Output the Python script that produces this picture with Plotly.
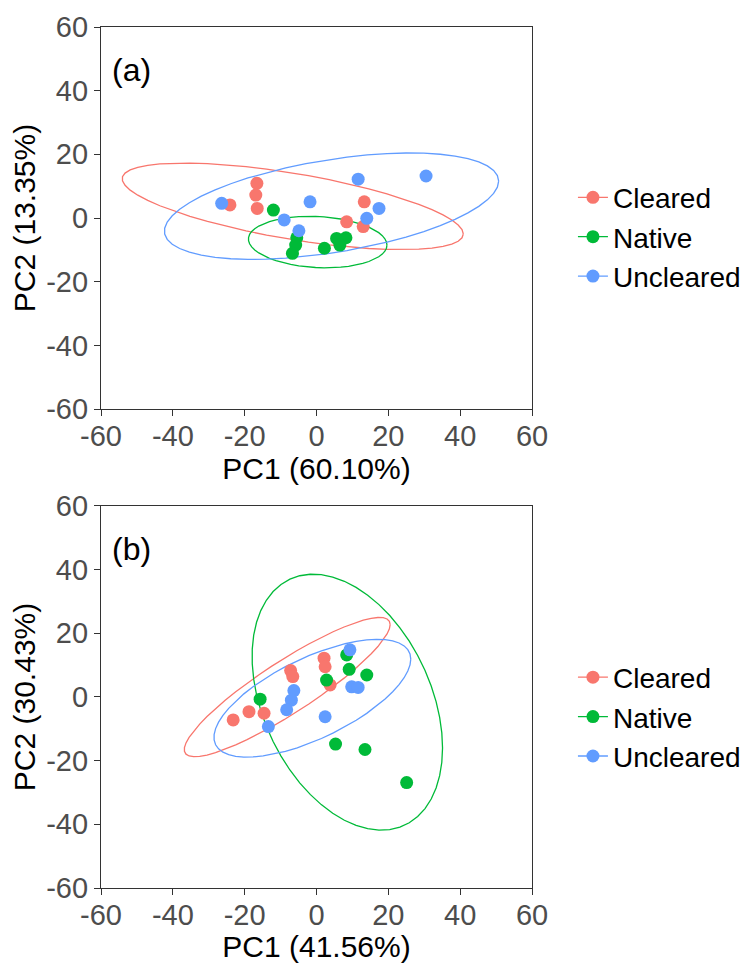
import numpy as np
import plotly.graph_objects as go

groups = ["Cleared", "Native", "Uncleared"]
colors = ["#F8766D", "#00BA38", "#619CFF"]

# Panel (a): PC1 (60.10%) vs PC2 (13.35%)
a_cleared_x = [-16.6, -16.9, -16.5, -24.1, 13.3, 8.4, 13.0]
a_cleared_y = [10.9, 7.2, 3.0, 4.1, 5.1, -1.2, -2.7]
a_native_x = [-12.0, -5.5, -5.8, -6.7, 2.2, 5.6, 8.2, 6.5]
a_native_y = [2.5, -6.2, -8.5, -11.1, -9.5, -6.4, -6.2, -8.5]
a_uncleared_x = [-26.4, -1.8, 11.6, -9.0, -4.9, 17.4, 14.0, 30.5]
a_uncleared_y = [4.6, 5.1, 12.2, -0.6, -4.0, 3.0, -0.1, 13.2]

# Panel (b): PC1 (41.56%) vs PC2 (30.43%)
b_cleared_x = [-23.2, -18.8, -14.6, -7.2, -6.6, 2.1, 2.4, 3.8]
b_cleared_y = [-7.2, -4.6, -5.1, 8.3, 6.4, 12.2, 9.5, 3.8]
b_native_x = [-15.7, 2.8, 8.4, 9.1, 14.0, 5.3, 13.5, 25.1]
b_native_y = [-0.7, 5.3, 13.2, 8.7, 6.9, -14.8, -16.5, -26.9]
b_uncleared_x = [9.3, -6.3, -7.0, -8.3, -13.4, 2.4, 9.8, 11.6]
b_uncleared_y = [14.8, 2.0, -1.0, -4.0, -9.3, -6.2, 3.2, 3.0]

tick_vals = [-60, -40, -20, 0, 20, 40, 60]
tick_text = ["-60", "-40", "-20", "0", "20", "40", "60"]
panel_labels = ["(a)", "(b)"]
x_titles = ["PC1 (60.10%)", "PC1 (41.56%)"]
y_titles = ["PC2 (13.35%)", "PC2 (30.43%)"]


def cov_trob(x, nu=5, maxit=25, tol=0.01):
    n, p = x.shape
    wt = np.ones(n)
    loc = x.mean(axis=0)
    w = np.sqrt(wt)
    X = x - loc
    for _ in range(maxit):
        w0 = w
        X = x - loc
        A = np.sqrt(w / w.sum())[:, None] * X
        _, d, vt = np.linalg.svd(A, full_matrices=False)
        wX = X @ vt.T @ np.diag(1.0 / d)
        Q = (wX ** 2).sum(axis=1)
        w = (wt * (nu + p)) / (nu + Q)
        loc = (w[:, None] * x).sum(axis=0) / w.sum()
        if np.all(np.abs(w - w0) < tol):
            break
    sX = np.sqrt(w)[:, None] * X
    cov = sX.T @ sX / wt.sum()
    return cov, loc


def ellipse(xs, ys, level=0.95, segments=51):
    pts = np.column_stack([xs, ys])
    cov, center = cov_trob(pts)
    n = len(xs)
    dfd = n - 1
    qf = (dfd / 2.0) * ((1 - level) ** (-2.0 / dfd) - 1)
    radius = np.sqrt(2 * qf)
    R = np.linalg.cholesky(cov).T
    ang = np.arange(segments + 1) * 2 * np.pi / segments
    circ = np.column_stack([np.cos(ang), np.sin(ang)])
    e = center + radius * (circ @ R)
    return e[:, 0], e[:, 1]


panels = [
    [(a_cleared_x, a_cleared_y), (a_native_x, a_native_y), (a_uncleared_x, a_uncleared_y)],
    [(b_cleared_x, b_cleared_y), (b_native_x, b_native_y), (b_uncleared_x, b_uncleared_y)],
]

fig = go.Figure()
FONT = "Liberation Sans, Arial, sans-serif"

for pi, panel in enumerate(panels):
    xa = "x" if pi == 0 else "x2"
    ya = "y" if pi == 0 else "y2"
    lg = "legend" if pi == 0 else "legend2"
    for gi, (xs, ys) in enumerate(panel):
        ex, ey = ellipse(np.array(xs), np.array(ys))
        fig.add_trace(go.Scatter(x=ex, y=ey, mode="lines", xaxis=xa, yaxis=ya,
                                 line=dict(color=colors[gi], width=1.3),
                                 showlegend=False, hoverinfo="skip"))
    for gi, (xs, ys) in enumerate(panel):
        fig.add_trace(go.Scatter(x=xs, y=ys, mode="markers", xaxis=xa, yaxis=ya,
                                 marker=dict(color=colors[gi], size=13),
                                 showlegend=False, name=groups[gi]))
    for gi in range(3):
        fig.add_trace(go.Scatter(x=[None], y=[None], mode="lines+markers", xaxis=xa, yaxis=ya,
                                 marker=dict(color=colors[gi], size=13),
                                 line=dict(color=colors[gi], width=1.3),
                                 name=groups[gi], legend=lg, showlegend=True))

axis_common = dict(range=[-60, 60], tickvals=tick_vals, ticktext=tick_text, ticks="outside", ticklen=6,
                   tickwidth=1.2, tickcolor="#333333", showline=True, linecolor="#333333",
                   linewidth=1.2, mirror=True, showgrid=False, zeroline=False, automargin=False,
                   tickfont=dict(family=FONT, size=29, color="#4D4D4D"))

top_dom = [0.5563, 1.0]
bot_dom = [0.0, 0.4437]
tfont = dict(family=FONT, size=30, color="black")

# the page body adds an 8px offset; the figure is wider than the window so the
# legend never pushes the plot margins
fig.update_layout(
    width=775, height=955,
    margin=dict(l=93, r=251, t=19, b=75),
    plot_bgcolor="white", paper_bgcolor="white",
    font=dict(family=FONT, color="black"),
    xaxis=dict(domain=[0, 1], anchor="y", ticklabelstandoff=-5,
               title=dict(text=x_titles[0], font=tfont, standoff=0), **axis_common),
    yaxis=dict(domain=top_dom, anchor="x", title=dict(text=y_titles[0], font=tfont, standoff=4), **axis_common),
    xaxis2=dict(domain=[0, 1], anchor="y2", ticklabelstandoff=-5,
                title=dict(text=x_titles[1], font=tfont, standoff=0), **axis_common),
    yaxis2=dict(domain=bot_dom, anchor="x2", title=dict(text=y_titles[1], font=tfont, standoff=4), **axis_common),
    legend=dict(x=1.095, y=0.756, xanchor="left", yanchor="middle", font=dict(family=FONT, size=28, color="black"),
                bgcolor="rgba(0,0,0,0)", itemwidth=30),
    legend2=dict(x=1.095, y=0.1986, xanchor="left", yanchor="middle", font=dict(family=FONT, size=28, color="black"),
                 bgcolor="rgba(0,0,0,0)", itemwidth=30),
    showlegend=True,
)

for pi, lab in enumerate(panel_labels):
    xr = "x domain" if pi == 0 else "x2 domain"
    yr = "y domain" if pi == 0 else "y2 domain"
    fig.add_annotation(text=lab, xref=xr, yref=yr, x=0.022, y=0.887, xanchor="left", yanchor="middle",
                       showarrow=False, font=dict(family=FONT, size=32, color="black"))

fig.write_html("out.html")
